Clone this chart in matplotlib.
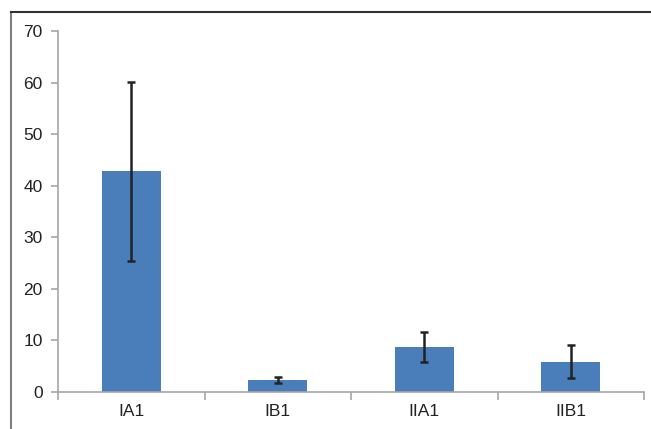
import matplotlib
matplotlib.use("Agg")
import matplotlib.pyplot as plt
from matplotlib.lines import Line2D

categories = ["IA1", "IB1", "IIA1", "IIB1"]
values = [42.8, 2.3, 8.8, 5.9]
errors = [17.4, 0.6, 2.9, 3.2]
yticks = [0, 10, 20, 30, 40, 50, 60, 70]

plt.rcParams['font.family'] = ['Liberation Sans', 'DejaVu Sans']

W, H = 651, 429
fig = plt.figure(figsize=(W/100, H/100), dpi=100)
ax = fig.add_axes([58/W, 1-392/H, (644-58)/W, (392-31)/H])

x = list(range(len(categories)))
ax.bar(x, values, width=0.4, color="#4A7EBB", zorder=2)
ax.errorbar(x, values, yerr=errors, fmt='none', ecolor="#222222",
            elinewidth=1.8, capsize=3.2, capthick=1.8, zorder=3)

ax.set_xlim(-0.5, len(categories) - 0.5)
ax.set_ylim(0, 70)
ax.set_yticks(yticks)
ax.set_yticklabels([str(t) for t in yticks])
ax.set_xticks([i - 0.5 for i in range(len(categories) + 1)])
ax.set_xticklabels([])
ax.set_xticks(x, minor=True)
ax.set_xticklabels(categories, minor=True)

gray = "#A6A6A6"
for s in ["top", "right"]:
    ax.spines[s].set_visible(False)
for s in ["left", "bottom"]:
    ax.spines[s].set_color(gray)
    ax.spines[s].set_linewidth(1.2)

ax.tick_params(axis='y', which='major', direction='out', length=5, width=1.2,
               color=gray, labelsize=12.5, pad=6, labelcolor="#222222")
ax.tick_params(axis='x', which='major', direction='out', length=6, width=1.2,
               color=gray)
ax.tick_params(axis='x', which='minor', length=0, labelsize=12.5, pad=9,
               labelcolor="#222222")

# outer frame (partially visible)
fig.add_artist(Line2D([11/W, 11/W], [0, 1-12/H], transform=fig.transFigure,
                      color="#808080", linewidth=1.5))
fig.add_artist(Line2D([11/W, 1.0], [1-12/H, 1-12/H], transform=fig.transFigure,
                      color="#333333", linewidth=1.5))

fig.savefig("out.png", dpi=100)
